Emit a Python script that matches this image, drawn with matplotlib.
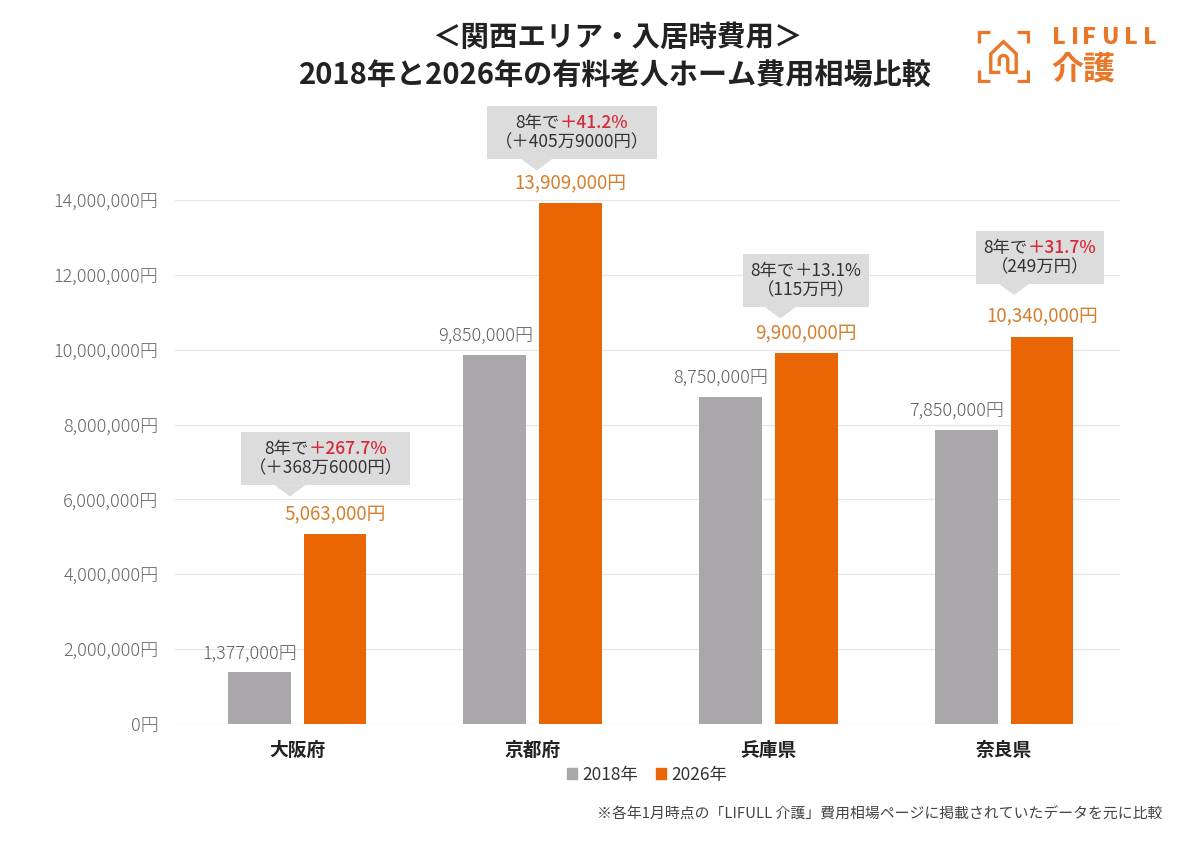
import numpy as np
import matplotlib
matplotlib.use('Agg')
import matplotlib.pyplot as plt
from matplotlib.offsetbox import AnnotationBbox, TextArea, HPacker, VPacker
from matplotlib.transforms import offset_copy
from matplotlib.patches import Patch

plt.rcParams['font.family'] = ['Noto Sans CJK JP', 'DejaVu Sans']

# chart data
prefectures = ['大阪府', '京都府', '兵庫県', '奈良県']
years = ['2018年', '2026年']
cost_2018 = [1377000, 9850000, 8750000, 7850000]
cost_2026 = [5063000, 13909000, 9900000, 10340000]
growth_pct = ['＋267.7%', '＋41.2%', '＋13.1%', '＋31.7%']
growth_yen = ['（＋368万6000円）', '（＋405万9000円）', '（115万円）', '（249万円）']
pct_highlight = [True, True, False, True]
y_ticks = np.arange(0, 14000001, 2000000)

# colours
GRAY = '#A9A7A9'
ORANGE = '#EA6503'
LABEL_ORANGE = '#D4802E'
RED = '#D42A3C'
BOX = '#DCDCDC'
TXT = '#333333'
LOGO = '#E8772A'

fig = plt.figure(figsize=(12, 8.56), dpi=100)
ax = fig.add_axes([175 / 1200, 1 - 724 / 856, 945 / 1200, 524 / 856])

x = np.arange(len(prefectures))
w = 0.267
off = 0.161
ax.bar(x - off, cost_2018, w, color=GRAY, zorder=2)
ax.bar(x + off, cost_2026, w, color=ORANGE, zorder=2)

ax.set_xlim(-0.518, 3.492)
ax.set_ylim(0, 14000000)
ax.set_yticks(y_ticks)
ax.set_yticklabels([f'{v:,}円' for v in y_ticks], fontsize=13, color='#666666',
                   fontweight='light')
ax.set_xticks(x)
ax.set_xticklabels(prefectures, fontsize=13.5, fontweight='bold', color='#222222')
ax.tick_params(axis='both', length=0)
ax.tick_params(axis='y', pad=12)
ax.tick_params(axis='x', pad=12)
ax.grid(axis='y', color='#E6E6E6', linewidth=0.9)
ax.set_axisbelow(True)
for s in ax.spines.values():
    s.set_visible(False)

# value labels above bars
for i in range(len(prefectures)):
    ax.annotate(f'{cost_2018[i]:,}円', (x[i] - off, cost_2018[i]), xytext=(38, 19),
                textcoords='offset pixels', ha='right', va='center',
                fontsize=13, color='#5E5E5E', fontweight='light', annotation_clip=False)
    ax.annotate(f'{cost_2026[i]:,}円', (x[i] + off, cost_2026[i]), xytext=(0, 20),
                textcoords='offset pixels', ha='center', va='center',
                fontsize=13.5, color=LABEL_ORANGE, annotation_clip=False)

# callout boxes (tip position in pixels from the 2026 bar top)
tip_px = [(-45, 38), (-34, 33), (-26, 35), (-28, 42)]
for i in range(len(prefectures)):
    tp = dict(color=TXT, fontsize=12.5)
    line1 = HPacker(children=[TextArea('8年で', textprops=tp),
                              TextArea(growth_pct[i], textprops=dict(
                                  color=RED if pct_highlight[i] else TXT, fontsize=12.5,
                                  fontweight='medium' if pct_highlight[i] else 'normal'))],
                    sep=0, pad=0, align='baseline')
    line2 = TextArea(growth_yen[i], textprops=tp)
    content = VPacker(children=[line1, line2], sep=1, pad=0, align='center')
    tip = offset_copy(ax.transData, fig=fig, x=tip_px[i][0], y=tip_px[i][1], units='dots')
    ab = AnnotationBbox(content, (x[i] + off, cost_2026[i]), xycoords=tip,
                        xybox=(0, 19), boxcoords='offset pixels', box_alignment=(0.27, 0),
                        pad=0.55, fontsize=10, frameon=True,
                        bboxprops=dict(facecolor=BOX, edgecolor='none'),
                        arrowprops=dict(arrowstyle='wedge,tail_width=1.0,shrink_factor=0.5',
                                        facecolor=BOX, edgecolor='none', relpos=(0.27, 0),
                                        shrinkA=0, shrinkB=0, mutation_scale=16),
                        annotation_clip=False, zorder=5)
    ax.add_artist(ab)

# legend
handles = [Patch(color=GRAY, label=years[0]), Patch(color=ORANGE, label=years[1])]
fig.legend(handles=handles, loc='center', bbox_to_anchor=(647 / 1200, 1 - 775 / 856),
           ncol=2, frameon=False, handlelength=0.6, handleheight=0.6, handletextpad=0.3,
           columnspacing=1.0, fontsize=12.5, labelcolor='#333333')

# titles
fig.text(617 / 1200, 1 - 38 / 856, '＜関西エリア・入居時費用＞', ha='center', va='center',
         fontsize=20.5, fontweight='bold', color='#222222')
fig.text(615 / 1200, 1 - 75 / 856, '2018年と2026年の有料老人ホーム費用相場比較', ha='center',
         va='center', fontsize=21, fontweight='bold', color='#222222')

# footnote
fig.text(1162 / 1200, 1 - 815 / 856,
         '※各年1月時点の「LIFULL 介護」費用相場ページに掲載されていたデータを元に比較',
         ha='right', va='center', fontsize=10.7, color='#444444')

# logo
lax = fig.add_axes([977 / 1200, 1 - 83 / 856, 53 / 1200, 53 / 856])
lax.set_xlim(0, 1)
lax.set_ylim(0, 1)
lax.axis('off')
lk = dict(color=LOGO, linewidth=2.4, solid_capstyle='butt', solid_joinstyle='miter')
lax.plot([0.03, 0.03, 0.25], [0.75, 0.97, 0.97], **lk)
lax.plot([0.75, 0.97, 0.97], [0.97, 0.97, 0.75], **lk)
lax.plot([0.03, 0.03, 0.25], [0.25, 0.03, 0.03], **lk)
lax.plot([0.75, 0.97, 0.97], [0.03, 0.03, 0.25], **lk)
lax.plot([0.44, 0.26, 0.26, 0.5, 0.74, 0.74, 0.58], [0.2, 0.2, 0.55, 0.78, 0.55, 0.2, 0.2], **lk)
t = np.linspace(0, np.pi, 30)
lax.plot(np.r_[0.58, 0.5 + 0.08 * np.cos(t), 0.42],
         np.r_[0.2, 0.44 + 0.08 * np.sin(t), 0.32], **lk)
# spaced-out wordmark
for ch, cx in zip('LIFULL', [1059, 1075, 1089, 1110, 1131, 1150]):
    fig.text(cx / 1200, 1 - 38 / 856, ch, ha='center', va='center', fontsize=16.5,
             fontweight='heavy', color=LOGO)
fig.text(1051 / 1200, 1 - 69 / 856, '介護', ha='left', va='center', fontsize=23,
         fontweight='bold', color=LOGO)

fig.savefig('out.png', dpi=100, facecolor='white')
